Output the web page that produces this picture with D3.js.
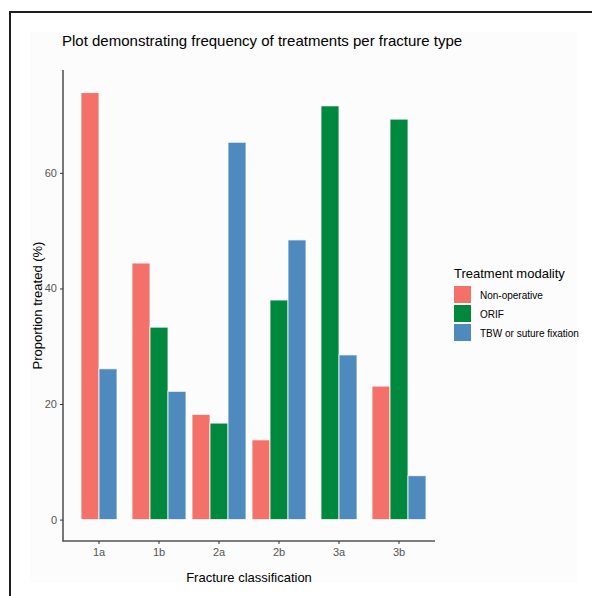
<!DOCTYPE html>
<html>
<head>
<meta charset="utf-8">
<script src="https://cdnjs.cloudflare.com/ajax/libs/d3/7.8.5/d3.min.js"></script>
<style>
	body { margin: 0; background: #ffffff; }
	text { font-family: "Liberation Sans", Arial, sans-serif; }
</style>
</head>
<body>
<div id="FractureChart"></div>
<script>
var categories = ['1a', '1b', '2a', '2b', '3a', '3b'];
var modalities = ['Non-operative', 'ORIF', 'TBW or suture fixation'];
var nonOperative = [73.9, 44.4, 18.2, 13.8, null, 23.1];
var orif = [null, 33.3, 16.7, 38.0, 71.6, 69.3];
var tbw = [26.1, 22.2, 65.3, 48.4, 28.5, 7.6];
var yTicks = [0, 20, 40, 60];

function createFractureChart()
{
	var width = 592;
	var height = 596;

	var color = d3.scaleOrdinal()
		.domain(modalities)
		.range(["#F4716A", "#00883F", "#4E8ABE"]);

	var series = [nonOperative, orif, tbw];

	var svg = d3.select('#FractureChart')
		.append('svg')
		.attr('width', width)
		.attr('height', height);

	// page frame and panel background
	svg.append('rect')
		.attr('x', 30).attr('y', 32)
		.attr('width', 547).attr('height', 550)
		.attr('fill', '#fcfcfc');

	svg.append('path')
		.attr('d', 'M10,' + height + 'V12H' + width)
		.attr('fill', 'none')
		.attr('stroke', '#1e1e1e')
		.attr('stroke-width', 2);

	var left = 63, right = 435, top = 70, bottom = 541;

	var x = d3.scaleBand()
		.domain(categories)
		.range([left, right])
		.paddingOuter(0.1)
		.paddingInner(0);

	// ggplot style 5% expansion on both ends
	var yMax = 74.1;
	var y = d3.scaleLinear()
		.domain([-yMax * 0.05, yMax * 1.05])
		.range([bottom, top]);

	var barWidth = x.bandwidth() * 0.3;

	// bars, centred per category over the modalities present
	categories.forEach(function(cat, i)
	{
		var present = [];
		series.forEach(function(s, j)
		{
			if (s[i] != null) present.push({ label: modalities[j], value: s[i] });
		});

		var start = x(cat) + x.bandwidth() / 2 - present.length * barWidth / 2;

		svg.append('g')
			.selectAll('rect')
			.data(present)
			.enter()
			.append('rect')
			.attr('x', function(d, k) { return start + k * barWidth; })
			.attr('y', function(d) { return y(d.value); })
			.attr('width', barWidth)
			.attr('height', function(d) { return y(0) - y(d.value); })
			.attr('fill', function(d) { return color(d.label); })
			.attr('stroke', 'rgba(255,255,255,0.8)')
			.attr('stroke-width', 1);
	});

	// axes
	var yAxis = svg.append('g')
		.attr('transform', 'translate(' + left + ',0)')
		.call(d3.axisLeft(y).tickValues(yTicks).tickSize(3).tickPadding(3));

	var xAxis = svg.append('g')
		.attr('transform', 'translate(0,' + bottom + ')')
		.call(d3.axisBottom(x).tickSize(3).tickPadding(4));

	[yAxis, xAxis].forEach(function(ax)
	{
		ax.select('.domain')
			.attr('d', ax === yAxis ? 'M0,' + top + 'V' + (bottom + 0.5) : 'M' + (left - 0.5) + ',0H' + right)
			.attr('stroke', '#555555')
			.attr('stroke-width', 1.6);
		ax.selectAll('.tick line').attr('stroke', '#333333');
		ax.selectAll('.tick text')
			.attr('fill', '#555555')
			.style('font-size', '11px')
			.style('font-family', '"Liberation Sans", Arial, sans-serif');
	});

	// titles
	svg.append('text')
		.attr('x', 62)
		.attr('y', 46)
		.style('font-size', '15px')
		.attr('fill', '#000')
		.text('Plot demonstrating frequency of treatments per fracture type');

	svg.append('text')
		.attr('x', (left + right) / 2)
		.attr('y', 582)
		.attr('text-anchor', 'middle')
		.style('font-size', '13px')
		.text('Fracture classification');

	svg.append('text')
		.attr('transform', 'translate(42,' + ((top + bottom) / 2) + ') rotate(-90)')
		.attr('text-anchor', 'middle')
		.style('font-size', '13px')
		.text('Proportion treated (%)');

	// legend
	var legendRectSize = 17;
	var legendSpacing = 2;

	svg.append('text')
		.attr('x', 454)
		.attr('y', 278)
		.style('font-size', '13px')
		.text('Treatment modality');

	var legend = svg.selectAll('.legend')
		.data(color.domain())
		.enter()
		.append('g')
		.attr('class', 'legend')
		.attr('transform', function(d, i) {
			return 'translate(454,' + (286 + i * (legendRectSize + legendSpacing)) + ')';
		});

	legend.append('rect')
		.attr('width', legendRectSize)
		.attr('height', legendRectSize)
		.style('fill', color);

	legend.append('text')
		.attr('x', 26)
		.attr('y', 12.5)
		.style('font-size', '10px')
		.text(function(d) { return d; });
}

createFractureChart();
</script>
</body>
</html>
